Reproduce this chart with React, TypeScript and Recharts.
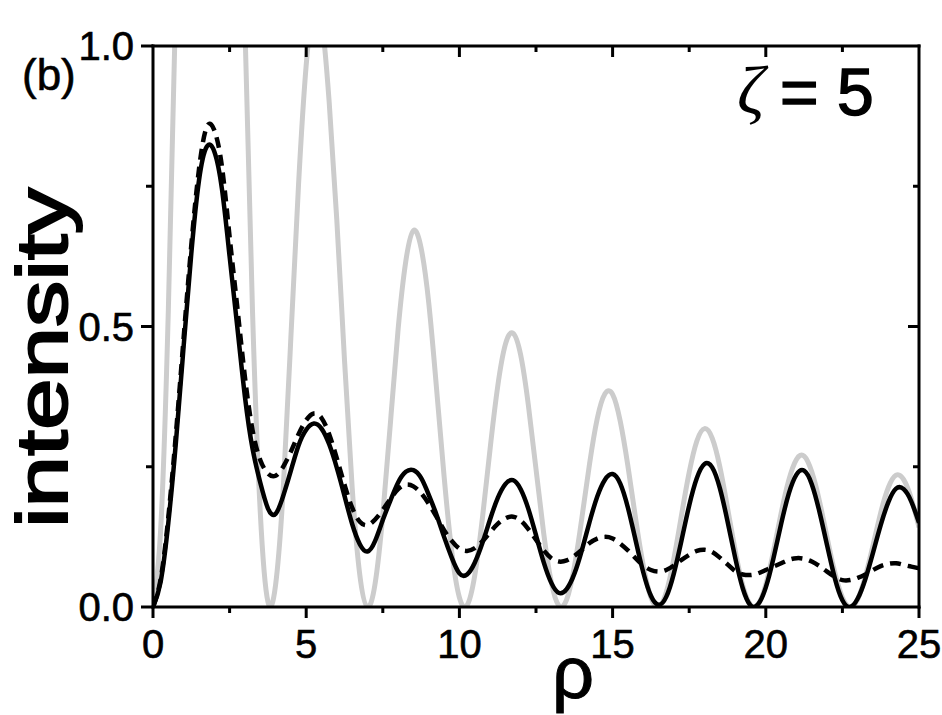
import { LineChart, Line, XAxis, YAxis } from "recharts";

document.body.style.margin = "0";

const FONT = "'Liberation Sans', Arial, Helvetica, sans-serif";

// rho grid, step 0.25
const rho = [
  0, 0.25, 0.5, 0.75, 1, 1.25, 1.5, 1.75, 2, 2.25, 2.5, 2.75, 3, 3.25, 3.5, 3.75,
  4, 4.25, 4.5, 4.75, 5, 5.25, 5.5, 5.75, 6, 6.25, 6.5, 6.75, 7, 7.25, 7.5, 7.75,
  8, 8.25, 8.5, 8.75, 9, 9.25, 9.5, 9.75, 10, 10.25, 10.5, 10.75, 11, 11.25, 11.5, 11.75,
  12, 12.25, 12.5, 12.75, 13, 13.25, 13.5, 13.75, 14, 14.25, 14.5, 14.75, 15, 15.25, 15.5, 15.75,
  16, 16.25, 16.5, 16.75, 17, 17.25, 17.5, 17.75, 18, 18.25, 18.5, 18.75, 19, 19.25, 19.5, 19.75,
  20, 20.25, 20.5, 20.75, 21, 21.25, 21.5, 21.75, 22, 22.25, 22.5, 22.75, 23, 23.25, 23.5, 23.75,
  24, 24.25, 24.5, 24.75, 25,
];

// grey curve (goes off the top for the first two lobes)
const greyCurve = [
  0, 0.138, 0.528, 1.097, 1.743, 2.346, 2.801, 3.03, 2.993, 2.707, 2.224, 1.633, 1.035, 0.523, 0.17, 0.0095,
  0.039, 0.21, 0.481, 0.753, 0.966, 1.072, 1.047, 0.9, 0.689, 0.44, 0.213, 0.057, 0, 0.042, 0.164, 0.329,
  0.495, 0.616, 0.671, 0.64, 0.542, 0.392, 0.233, 0.099, 0.017, 0.003, 0.056, 0.158, 0.281, 0.393, 0.468, 0.488,
  0.449, 0.36, 0.246, 0.132, 0.044, 0.002, 0.013, 0.071, 0.16, 0.256, 0.336, 0.38, 0.379, 0.331, 0.251, 0.158,
  0.074, 0.017, 0, 0.026, 0.086, 0.164, 0.24, 0.296, 0.318, 0.301, 0.25, 0.177, 0.101, 0.038, 0.004, 0.005,
  0.04, 0.099, 0.167, 0.226, 0.263, 0.269, 0.241, 0.189, 0.124, 0.062, 0.017, 0, 0.014, 0.055, 0.11, 0.168,
  0.213, 0.235, 0.227, 0.193, 0.142,
];

// solid black curve
const solidCurve = [
  0, 0.045, 0.15, 0.295, 0.465, 0.63, 0.76, 0.82, 0.812, 0.745, 0.625, 0.5, 0.375, 0.282, 0.222, 0.176,
  0.166, 0.198, 0.243, 0.288, 0.316, 0.327, 0.318, 0.29, 0.248, 0.198, 0.148, 0.112, 0.099, 0.118, 0.155, 0.19,
  0.222, 0.241, 0.244, 0.23, 0.2, 0.165, 0.125, 0.088, 0.06, 0.058, 0.079, 0.114, 0.156, 0.194, 0.219, 0.226,
  0.21, 0.175, 0.128, 0.08, 0.043, 0.025, 0.032, 0.059, 0.102, 0.152, 0.197, 0.227, 0.237, 0.22, 0.177, 0.119,
  0.062, 0.02, 0.004, 0.018, 0.06, 0.119, 0.181, 0.23, 0.255, 0.249, 0.212, 0.153, 0.088, 0.033, 0.003, 0.005,
  0.035, 0.087, 0.148, 0.202, 0.236, 0.243, 0.219, 0.17, 0.11, 0.052, 0.012, 0, 0.015, 0.05, 0.097, 0.146,
  0.187, 0.211, 0.21, 0.188, 0.15,
];

// dashed black curve
const dashedCurve = [
  0, 0.05, 0.16, 0.31, 0.48, 0.645, 0.78, 0.855, 0.85, 0.785, 0.66, 0.535, 0.41, 0.315, 0.262, 0.238,
  0.234, 0.25, 0.277, 0.308, 0.333, 0.345, 0.337, 0.308, 0.265, 0.218, 0.177, 0.152, 0.146, 0.156, 0.173, 0.193,
  0.21, 0.218, 0.215, 0.203, 0.184, 0.161, 0.137, 0.118, 0.104, 0.1, 0.105, 0.117, 0.133, 0.148, 0.158, 0.161,
  0.154, 0.139, 0.12, 0.101, 0.087, 0.081, 0.083, 0.091, 0.102, 0.114, 0.122, 0.125, 0.122, 0.113, 0.101, 0.087,
  0.074, 0.066, 0.063, 0.066, 0.074, 0.084, 0.093, 0.1, 0.102, 0.098, 0.088, 0.076, 0.064, 0.058, 0.057, 0.06,
  0.066, 0.072, 0.078, 0.084, 0.087, 0.086, 0.081, 0.073, 0.063, 0.054, 0.048, 0.048, 0.052, 0.058, 0.066, 0.073,
  0.077, 0.078, 0.075, 0.072, 0.069,
];

const xTicks = [0, 2.5, 5, 7.5, 10, 12.5, 15, 17.5, 20, 22.5, 25];
const yTicks = [0, 0.25, 0.5, 0.75, 1];

const data = rho.map((r, i) => ({
  rho: r,
  grey: greyCurve[i],
  solid: solidCurve[i],
  dashed: dashedCurve[i],
}));

const axisLine = { stroke: "#000", strokeWidth: 3, strokeLinecap: "square" as const };

function BottomTick(props: any) {
  const { x, y, payload } = props;
  const v = payload.value;
  const major = v % 5 === 0;
  return (
    <g>
      <line x1={x} x2={x} y1={y} y2={y + (major ? 11 : 6)} stroke="#000" strokeWidth={3} />
      {major && (
        <text x={x} y={y + 51} textAnchor="middle" fontSize={40} fontFamily={FONT} fill="#000" stroke="#000" strokeWidth={0.6}>
          {v}
        </text>
      )}
    </g>
  );
}

function TopTick(props: any) {
  const { x, y, payload } = props;
  const v = payload.value;
  if (v === 0 || v === 25) return <g />;
  const major = v % 5 === 0;
  return <line x1={x} x2={x} y1={y} y2={y + (major ? 11 : 6)} stroke="#000" strokeWidth={3} />;
}

function LeftTick(props: any) {
  const { x, y, payload } = props;
  const v = payload.value;
  const major = v % 0.5 === 0;
  return (
    <g>
      <line x1={x} x2={x - (major ? 12 : 7)} y1={y} y2={y} stroke="#000" strokeWidth={3} />
      {major && (
        <text x={x - 19} y={y + 14} textAnchor="end" fontSize={40} fontFamily={FONT} fill="#000" stroke="#000" strokeWidth={0.6}>
          {v.toFixed(1)}
        </text>
      )}
    </g>
  );
}

function RightTick(props: any) {
  const { x, y, payload } = props;
  const v = payload.value;
  if (v === 0 || v === 1) return <g />;
  const major = v % 0.5 === 0;
  return <line x1={x} x2={x - (major ? 11 : 6)} y1={y} y2={y} stroke="#000" strokeWidth={3} />;
}

export default function App() {
  return (
    <div style={{ width: 942, height: 715, overflow: "hidden", background: "#fff" }}>
      <LineChart
        width={942}
        height={715}
        data={data}
        margin={{ top: 46, right: 23, left: 0, bottom: 0 }}
      >
        <XAxis
          dataKey="rho"
          type="number"
          domain={[0, 25]}
          ticks={xTicks}
          interval={0}
          allowDataOverflow
          height={108}
          tickSize={0}
          tickMargin={0}
          tickLine={false}
          axisLine={axisLine}
          tick={<BottomTick />}
        />
        <XAxis
          xAxisId="top"
          dataKey="rho"
          orientation="top"
          mirror
          type="number"
          domain={[0, 25]}
          ticks={xTicks}
          interval={0}
          allowDataOverflow
          tickSize={0}
          tickMargin={0}
          tickLine={false}
          axisLine={axisLine}
          tick={<TopTick />}
        />
        <YAxis
          type="number"
          domain={[0, 1]}
          ticks={yTicks}
          interval={0}
          allowDataOverflow
          width={153}
          tickSize={0}
          tickMargin={0}
          tickLine={false}
          axisLine={axisLine}
          tick={<LeftTick />}
        />
        <YAxis
          yAxisId="right"
          orientation="right"
          mirror
          type="number"
          domain={[0, 1]}
          ticks={yTicks}
          interval={0}
          allowDataOverflow
          tickSize={0}
          tickMargin={0}
          tickLine={false}
          axisLine={axisLine}
          tick={<RightTick />}
        />
        <Line
          dataKey="grey"
          type="natural"
          stroke="#cccccc"
          strokeWidth={5}
          dot={false}
          activeDot={false}
          isAnimationActive={false}
        />
        <Line
          dataKey="dashed"
          type="natural"
          stroke="#000"
          strokeWidth={4.5}
          strokeDasharray="11 7"
          dot={false}
          activeDot={false}
          isAnimationActive={false}
        />
        <Line
          dataKey="solid"
          type="natural"
          stroke="#000"
          strokeWidth={4.5}
          dot={false}
          activeDot={false}
          isAnimationActive={false}
        />
        <text x={22} y={90} fontSize={44} fontFamily={FONT} fill="#000" stroke="#000" strokeWidth={0.6}>
          (b)
        </text>
        <text
          x={737}
          y={113}
          fontSize={68}
          fontFamily="'Liberation Serif', 'DejaVu Serif', serif"
          fontStyle="italic"
          fill="#000"
        >
          ζ
        </text>
        <text x={780} y={115} fontSize={66} fontFamily={FONT} fill="#000" stroke="#000" strokeWidth={1.5}>
          = 5
        </text>
        <text
          x={67}
          y={358}
          transform="rotate(-90 67 358)"
          textAnchor="middle"
          fontSize={72}
          textLength={340}
          lengthAdjust="spacingAndGlyphs"
          fontFamily={FONT}
          fill="#000"
          stroke="#000"
          strokeWidth={2}
        >
          intensity
        </text>
        <text x={573} y={698} textAnchor="middle" fontSize={74} fontFamily={FONT} fill="#000" stroke="#000" strokeWidth={1}>
          ρ
        </text>
      </LineChart>
    </div>
  );
}
